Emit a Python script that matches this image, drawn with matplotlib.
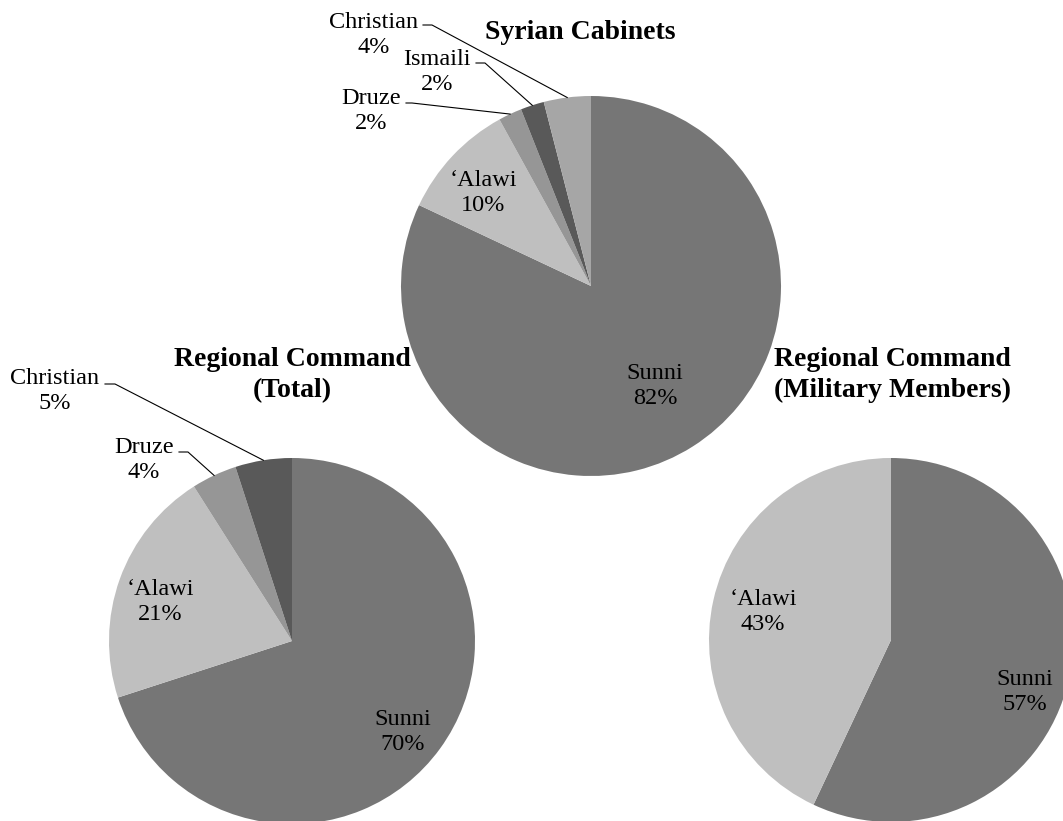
import matplotlib.pyplot as plt
import numpy as np

W, H = 1063, 821

# data
cab_labels = ["Sunni", "\u2018Alawi", "Druze", "Ismaili", "Christian"]
cab_vals = [82, 10, 2, 2, 4]
cab_cols = ["#767676", "#bfbfbf", "#969696", "#595959", "#a6a6a6"]

tot_labels = ["Sunni", "\u2018Alawi", "Druze", "Christian"]
tot_vals = [70, 21, 4, 5]
tot_cols = ["#767676", "#bfbfbf", "#969696", "#595959"]

mil_labels = ["Sunni", "\u2018Alawi"]
mil_vals = [57, 43]
mil_cols = ["#767676", "#bfbfbf"]

plt.rcParams['font.family'] = ['Liberation Serif', 'DejaVu Serif']

fig = plt.figure(figsize=(W / 100, H / 100), dpi=100)
ax = fig.add_axes([0, 0, 1, 1])

def py(y):
    # pixel row (from top) to data y
    return H - y

# pie layout: center (px), radius, label text centers, leader elbows
pies = [
    dict(labels=cab_labels, vals=cab_vals, cols=cab_cols, c=(591, 286), r=190,
         title="Syrian Cabinets", tpos=(580, 32),
         tx={"Sunni": (655, 386), "\u2018Alawi": (483, 193), "Druze": (371, 111),
             "Ismaili": (437, 72), "Christian": (374, 35)},
         lead={"Druze": ((406, 103), (412, 103)), "Ismaili": ((476, 63), (485, 63)),
               "Christian": ((423, 25), (432, 25))}),
    dict(labels=tot_labels, vals=tot_vals, cols=tot_cols, c=(292, 641), r=183,
         title="Regional Command\n(Total)", tpos=(292, 375),
         tx={"Sunni": (403, 732), "\u2018Alawi": (160, 602), "Druze": (144, 460),
             "Christian": (55, 391)},
         lead={"Druze": ((179, 452), (188, 452)), "Christian": ((105, 384), (115, 384))}),
    dict(labels=mil_labels, vals=mil_vals, cols=mil_cols, c=(891, 640), r=182,
         title="Regional Command\n(Military Members)", tpos=(892, 375),
         tx={"Sunni": (1025, 692), "\u2018Alawi": (763, 612)},
         lead={}),
]

for p in pies:
    cx, cy = p["c"]
    wedges, _ = ax.pie(p["vals"], colors=p["cols"], startangle=90, counterclock=False,
                       center=(cx, py(cy)), radius=p["r"],
                       wedgeprops=dict(linewidth=0))
    for w, lab, v in zip(wedges, p["labels"], p["vals"]):
        x, y = p["tx"][lab]
        ax.text(x, py(y), f"{lab}\n{v}%", ha="center", va="center",
                fontsize=17.5, linespacing=1.2)
        if lab in p["lead"]:
            (x0, y0), (x1, y1) = p["lead"][lab]
            ang = np.deg2rad((w.theta1 + w.theta2) / 2)
            ex = cx + p["r"] * np.cos(ang)
            ey = py(cy) + p["r"] * np.sin(ang)
            ax.plot([x0, x1, ex], [py(y0), py(y1), ey], color="black", lw=0.8)
    ax.text(p["tpos"][0], py(p["tpos"][1]), p["title"], ha="center", va="center",
            fontsize=20, fontweight="bold", linespacing=1.32)

ax.set_xlim(0, W)
ax.set_ylim(0, H)
ax.set_aspect("equal")
ax.axis("off")

fig.savefig("out.png", dpi=100)
